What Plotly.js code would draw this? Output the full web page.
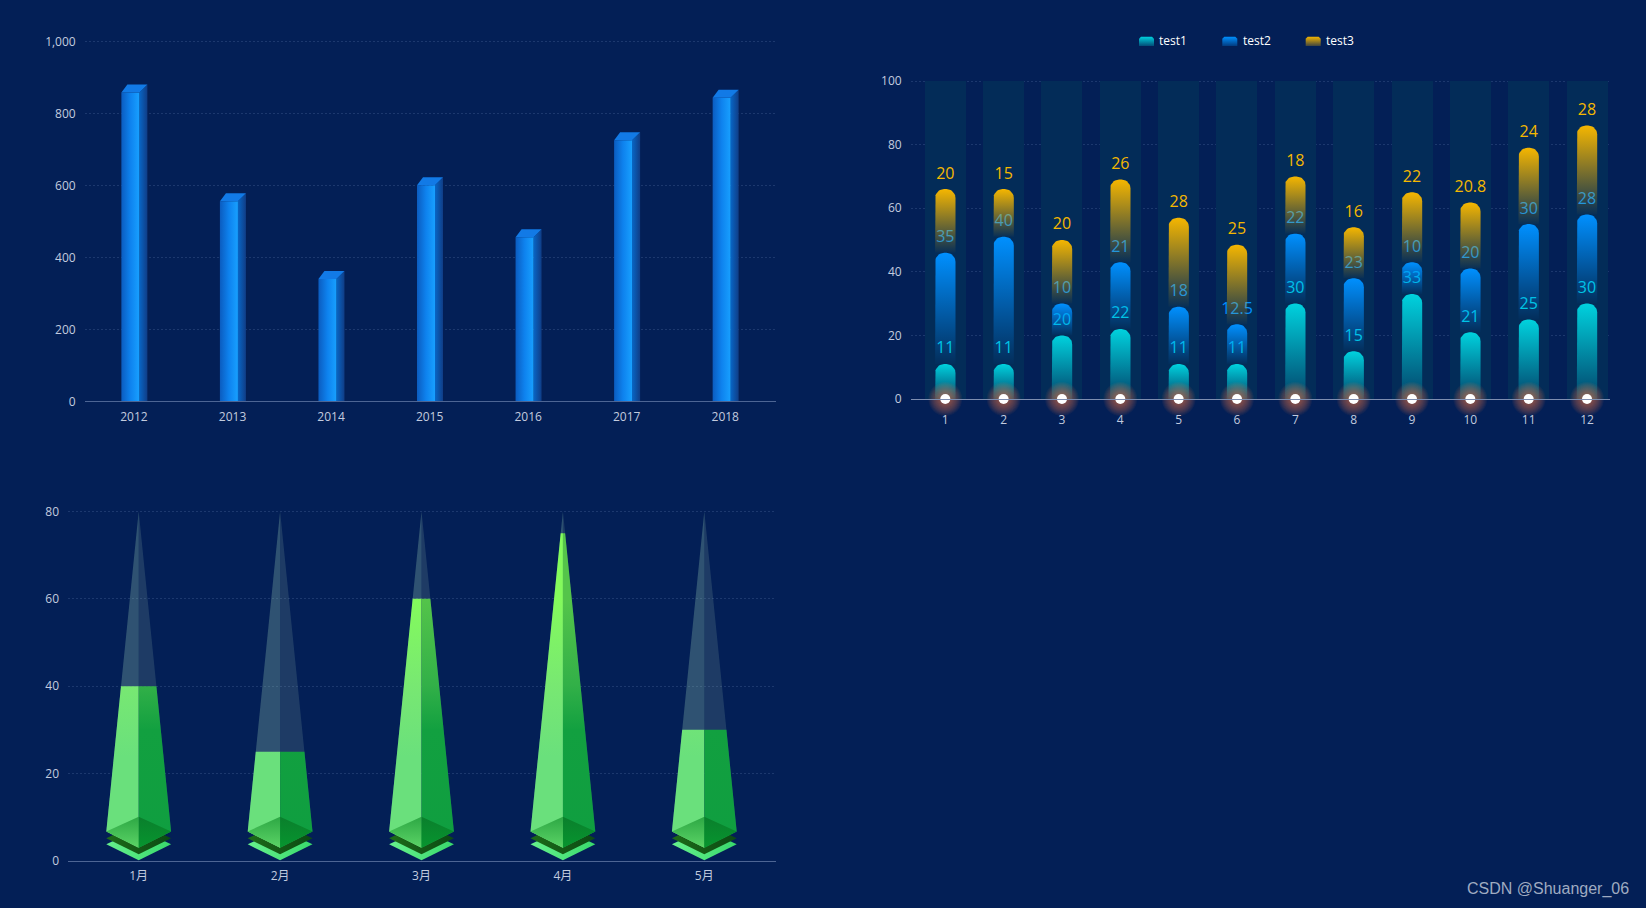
<!DOCTYPE html>
<html>
<head>
<meta charset="utf-8">
<script src="https://cdn.plot.ly/plotly-3.0.1.min.js"></script>
<style>html,body{margin:0;padding:0;background:#031f56;overflow:hidden}</style>
</head>
<body>
<div id="chart" style="width:1646px;height:908px"></div>
<script>
// ---- data ----
const years = ['2012','2013','2014','2015','2016','2017','2018'];
const yearValues = [858,556,340,600,456,725,843];

const months = [1,2,3,4,5,6,7,8,9,10,11,12];
const test1 = [11,11,20,22,11,11,30,15,33,21,25,30];
const test2 = [35,40,10,21,18,12.5,22,23,10,20,30,28];
const test3 = [20,15,20,26,28,25,18,16,22,20.8,24,28];
const stackMax = [100,100,100,100,100,100,100,100,100,100,100,100];
const seriesNames = ['test1','test2','test3'];

const pyramidCats = ['1月','2月','3月','4月','5月'];
const pyramidValues = [40,25,60,75,30];
const pyramidMax = 80;

// ---- layout constants ----
const W = 1646, H = 908;
const BG = '#031f56';
const FONT = '"Open Sans","Noto Sans CJK SC",sans-serif';
const TICK = '#c2cbdf';
const GRID = 'rgba(130,160,210,0.2)';

function box(l,r,t,b,xr,yr){
  return {l,r,t,b,xr,yr,
    domX:[l/W,r/W], domY:[1-b/H,1-t/H],
    dx:p=>p*(xr[1]-xr[0])/(r-l), dy:p=>p*(yr[1]-yr[0])/(b-t)};
}
// the plot areas reach 3px above their top tick so that the top gridline is not clipped off
const A = box(84.7,776,38.3,401.3,[-0.5,6.515],[0,1000*363/360]);
const B = box(910.7,1610,78,399,[0.407,12.394],[0,100*321/318]);
const C = box(68,776,508.3,861,[-0.5,4.507],[0,80*352.7/349.7]);
const L = box(0,W,0,H,[0,W],[H,0]);

const traces = [];
function poly(xa,ya,xs,ys,style){
  const t = {type:'scatter',mode:'lines',xaxis:xa,yaxis:ya,x:xs,y:ys,fill:'toself',
    line:{width:0},hoverinfo:'skip',showlegend:false,cliponaxis:false};
  if(style.grad){
    t.fillgradient = {type:style.grad[0],start:style.grad[1],stop:style.grad[2],colorscale:style.grad[3]};
    t.fillcolor = 'rgba(0,0,0,0)';
  } else t.fillcolor = style.fill;
  traces.push(t);
}

// ---- chart 1: 3D columns ----
yearValues.forEach((v,i)=>{
  const x0=i+A.dx(-12.6), x1=i+A.dx(5.4), x2=i+A.dx(13.4), xb=i+A.dx(-6.6), up=A.dy(8);
  poly('x','y',[x1,x2,x2,x1,x1],[0,0,v+up,v,0],{grad:['horizontal',x1,x2,[[0,'#0866c6'],[1,'#103d86']]]});
  poly('x','y',[x0,x1,x1,x0,x0],[0,0,v,v,0],{grad:['horizontal',x0,x1,[[0,'#0b5cc0'],[0.5,'#0e82ee'],[1,'#18a0ff']]]});
  poly('x','y',[x0,xb,x2,x1,x0],[v,v+up,v+up,v,v],{fill:'#127ae6'});
});

// ---- chart 2: stacked rounded gradient bars ----
traces.push({type:'bar',xaxis:'x2',yaxis:'y2',x:months,y:stackMax,width:B.dx(41),
  marker:{color:'#032c58',line:{width:0}},hoverinfo:'skip',showlegend:false});

function rounded(c,base,top,hwPx,rPx){
  const xs=[c-B.dx(hwPx)], ys=[base];
  const rx=B.dx(rPx), ry=B.dy(rPx), hw=B.dx(hwPx);
  for(let k=0;k<=10;k++){const a=Math.PI-k*Math.PI/20;
    xs.push(c-hw+rx+rx*Math.cos(a)); ys.push(top-ry+ry*Math.sin(a));}
  for(let k=0;k<=10;k++){const a=Math.PI/2-k*Math.PI/20;
    xs.push(c+hw-rx+rx*Math.cos(a)); ys.push(top-ry+ry*Math.sin(a));}
  xs.push(c+hw,xs[0]); ys.push(base,base);
  return [xs,ys];
}
const stacks = [
  {vals:test1,top:'rgb(0,210,222)',low:'rgba(0,210,222,0.15)',label:'#00d0e0'},
  {vals:test2,top:'rgb(0,144,255)',low:'rgba(0,144,255,0.02)',label:'#0090ff'},
  {vals:test3,top:'rgb(245,182,0)',low:'rgba(245,182,0,0.02)',label:'#f5b800'}
];
const running = months.map(()=>0);
stacks.forEach(s=>{
  const labelX=[],labelY=[],labelT=[];
  s.vals.forEach((v,i)=>{
    const base=running[i], top=base+v, c=months[i];
    const [xs,ys]=rounded(c,base,top,10.2,9);
    poly('x2','y2',xs,ys,{grad:['vertical',base,top,[[0,s.low],[1,s.top]]]});
    labelX.push(c);labelY.push(top+B.dy(14.6));labelT.push(String(v));
    running[i]=top;
  });
  traces.push({type:'scatter',mode:'text',xaxis:'x2',yaxis:'y2',x:labelX,y:labelY,text:labelT,
    textposition:'middle center',textfont:{family:FONT,size:16,color:s.label},
    hoverinfo:'skip',showlegend:false,cliponaxis:false});
});
// glow + dots on the axis
[34,32,30,28,26,24,22,20,18,16,14,12].forEach(sz=>{
  traces.push({type:'scatter',mode:'markers',xaxis:'x2',yaxis:'y2',x:months,y:months.map(()=>0),
    marker:{size:sz,color:'rgba(255,120,70,0.055)',line:{width:0}},hoverinfo:'skip',showlegend:false,cliponaxis:false});
});
traces.push({type:'scatter',mode:'markers',xaxis:'x2',yaxis:'y2',x:months,y:months.map(()=>0),
  marker:{size:10,color:'#ffffff',line:{width:0}},hoverinfo:'skip',showlegend:false,cliponaxis:false});

// ---- chart 3: pyramids ----
pyramidValues.forEach((v,i)=>{
  const hw0=C.dx(32.4), vc=C.dy(29.5), vf=C.dy(13.3), vb=C.dy(44.3);
  const hw=u=>hw0*(pyramidMax-u)/(pyramidMax-vc);
  // lower plates
  poly('x3','y3',[i-hw0,i,i+hw0,i,i-hw0],[C.dy(16.7),C.dy(32),C.dy(16.7),C.dy(0.7),C.dy(16.7)],
    {grad:['horizontal',i-hw0,i+hw0,[[0,'#66f08c'],[1,'#38d96c']]]});
  poly('x3','y3',[i-hw0,i,i+hw0,i,i-hw0],[C.dy(22.7),C.dy(38),C.dy(22.7),C.dy(6.7),C.dy(22.7)],
    {grad:['horizontal',i-hw0,i+hw0,[[0,'#1d6a18'],[1,'#0b4a14']]]});
  // full-height ghost
  poly('x3','y3',[i,i-hw0,i,i],[pyramidMax,vc,vf,pyramidMax],{fill:'rgba(150,201,180,0.3)'});
  poly('x3','y3',[i,i+hw0,i,i],[pyramidMax,vc,vf,pyramidMax],{fill:'rgba(138,176,165,0.2)'});
  // lit part up to the value; the colour ramp is tied to the axis, not to the bar
  poly('x3','y3',[i,i-hw(v),i-hw0,i,i],[v,v,vc,vf,v],
    {grad:['vertical',0,60,[[0,'#6ae07c'],[0.4,'#6ae07c'],[0.67,'#78e872'],[1,'#84fb5c']]]});
  poly('x3','y3',[i,i+hw(v),i+hw0,i,i],[v,v,vc,vf,v],
    {grad:['vertical',0,60,[[0,'#0f9e40'],[0.5,'#12a040'],[0.67,'#32b048'],[1,'#54c44a']]]});
  // top plate
  poly('x3','y3',[i-hw0,i,i,i-hw0],[vc,vb,vf,vc],{grad:['vertical',vf,vb,[[0,'#5bd466'],[1,'#2da744']]]});
  poly('x3','y3',[i,i+hw0,i,i],[vb,vc,vf,vb],{grad:['vertical',vf,vb,[[0,'#07952f'],[1,'#0a7f2c']]]});
});

// ---- legend for chart 2 (swatches + text) ----
const legendX = [1139,1222.3,1305.7];
const legendTop = [stacks[0].top,stacks[1].top,stacks[2].top];
const legendLow = ['rgba(0,210,222,0.25)','rgba(0,144,255,0.25)','rgba(245,182,0,0.25)'];
legendX.forEach((x,i)=>{
  const x0=x,x1=x+15,y0=36.7,y1=46,r=2;
  poly('x4','y4',[x0,x0,x0+r,x1-r,x1,x1,x0],[y1,y0+r,y0,y0,y0+r,y1,y1],
    {grad:['vertical',y1,y0,[[0,legendLow[i]],[1,legendTop[i]]]]});
});

function axisX(dom,yref,vals,txt,rng,lineCol,standoff){
  return {domain:dom,anchor:yref,range:rng,tickmode:'array',tickvals:vals,ticktext:txt,showgrid:false,zeroline:false,
    showline:true,linecolor:lineCol,linewidth:1,ticks:'',ticklabelstandoff:standoff,
    tickfont:{family:FONT,size:12,color:TICK},fixedrange:true};
}
function axisY(dom,xref,rng,dtick,fmt){
  return {domain:dom,anchor:xref,range:rng,dtick:dtick,tick0:0,showgrid:true,gridcolor:GRID,griddash:'2px,2px',gridwidth:1,
    zeroline:false,showline:false,ticks:'',ticklabelstandoff:8,tickformat:fmt,
    tickfont:{family:FONT,size:12,color:TICK},fixedrange:true};
}

const layout = {
  width:W,height:H,margin:{l:0,r:0,t:0,b:0},autosize:false,
  paper_bgcolor:BG,plot_bgcolor:'rgba(0,0,0,0)',showlegend:false,hovermode:false,bargap:0,
  xaxis:axisX(A.domX,'y',years.map((_,i)=>i),years,A.xr,'#4d6594',4),
  yaxis:axisY(A.domY,'x',A.yr,200,',d'),
  xaxis2:axisX(B.domX,'y2',months,months.map(String),B.xr,'#7d8db0',10),
  yaxis2:axisY(B.domY,'x2',B.yr,20,'d'),
  xaxis3:axisX(C.domX,'y3',pyramidCats.map((_,i)=>i),pyramidCats,C.xr,'#4d6594',4),
  yaxis3:axisY(C.domY,'x3',C.yr,20,'d'),
  xaxis4:{domain:[0,1],anchor:'y4',range:L.xr,visible:false,fixedrange:true},
  yaxis4:{domain:[0,1],anchor:'x4',range:L.yr,visible:false,fixedrange:true},
  annotations:[
    ...seriesNames.map((n,i)=>({xref:'paper',yref:'paper',x:(legendX[i]+19.3)/W,y:1-40.7/H,xanchor:'left',yanchor:'middle',
      text:n,showarrow:false,borderpad:0,font:{family:FONT,size:12,color:'#ffffff'}})),
    {xref:'paper',yref:'paper',x:1631/W,y:1-889/H,xanchor:'right',yanchor:'middle',text:'CSDN @Shuanger_06',showarrow:false,
      font:{family:'"Liberation Sans",sans-serif',size:16,color:'#9fabc1'}}
  ]
};
Plotly.newPlot('chart',traces,layout,{displayModeBar:false,staticPlot:true});
</script>
</body>
</html>
